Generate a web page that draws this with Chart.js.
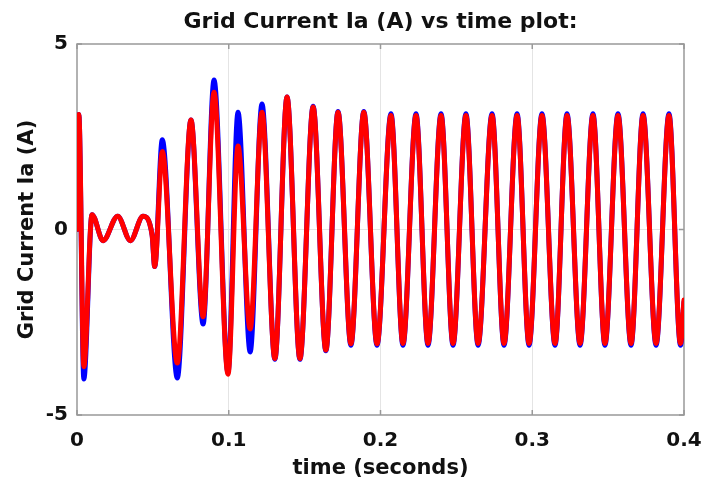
<!DOCTYPE html>
<html>
<head>
<meta charset="utf-8">
<script src="https://cdn.jsdelivr.net/npm/chart.js@4.4.1/dist/chart.umd.min.js"></script>
<style>
html, body { margin: 0; padding: 0; background: #fff; }
#wrap { width: 705px; height: 486px; }
</style>
</head>
<body>
<div id="wrap"><canvas id="myChart" width="705" height="486"></canvas></div>
<script>
// time (s) at each turning point
const timeValues = [
    0, 0.0012, 0.0045, 0.0099, 0.0172, 0.0268, 0.0352, 0.0435, 0.0495, 0.0512,
    0.0562, 0.0661, 0.0751, 0.0831, 0.0903, 0.0995, 0.1061, 0.1141, 0.1219, 0.1304,
    0.1384, 0.1469, 0.1556, 0.1640, 0.1720, 0.1805, 0.1890, 0.1977, 0.2069, 0.2148,
    0.2234, 0.2313, 0.2399, 0.2478, 0.2563, 0.2643, 0.2735, 0.2814, 0.2900, 0.2979,
    0.3064, 0.3150, 0.3229, 0.3315, 0.3400, 0.3479, 0.3565, 0.3651, 0.3730, 0.3816,
    0.3901, 0.3977, 0.4
];
const redValues = [
    0, 3.1, -3.7, 0.4, -0.3, 0.36, -0.3, 0.36, -0.15, -1.0,
    2.1, -3.6, 2.95, -2.35, 3.7, -3.9, 2.25, -2.68, 3.16, -3.48,
    3.57, -3.48, 3.3, -3.25, 3.16, -3.08, 3.16, -3.08, 3.07, -3.07,
    3.07, -3.07, 3.07, -3.07, 3.07, -3.07, 3.07, -3.07, 3.07, -3.07,
    3.07, -3.07, 3.07, -3.07, 3.07, -3.07, 3.07, -3.07, 3.07, -3.07,
    3.07, -3.07, -1.9
];
const blueValues = [
    0, 3.1, -4.03, 0.4, -0.3, 0.36, -0.3, 0.36, -0.15, -1.0,
    2.42, -4.0, 2.95, -2.55, 4.03, -3.85, 3.16, -3.3, 3.38, -3.5,
    3.57, -3.5, 3.32, -3.27, 3.18, -3.12, 3.18, -3.12, 3.12, -3.12,
    3.12, -3.12, 3.12, -3.12, 3.12, -3.12, 3.12, -3.12, 3.12, -3.12,
    3.12, -3.12, 3.12, -3.12, 3.12, -3.12, 3.12, -3.12, 3.12, -3.12,
    3.12, -3.12, -1.95
];
const xTicks = [0, 0.1, 0.2, 0.3, 0.4];
const yTicks = [-5, 0, 5];

const fontFamily = "'DejaVu Sans', sans-serif";
const textColor = '#111';
const gridColor = '#e4e4e4';

// MATLAB style box with inner tick marks
const boxPlugin = {
    id: 'box',
    beforeDatasetsDraw(chart) {
        const {ctx, chartArea: a, scales} = chart;
        ctx.save();
        ctx.strokeStyle = '#999';
        ctx.lineWidth = 1.5;
        ctx.strokeRect(a.left, a.top, a.right - a.left, a.bottom - a.top);
        ctx.beginPath();
        xTicks.forEach(v => {
            const px = scales.x.getPixelForValue(v);
            ctx.moveTo(px, a.top); ctx.lineTo(px, a.top + 5);
            ctx.moveTo(px, a.bottom); ctx.lineTo(px, a.bottom - 5);
        });
        yTicks.forEach(v => {
            const py = scales.y.getPixelForValue(v);
            ctx.moveTo(a.left, py); ctx.lineTo(a.left + 5, py);
            ctx.moveTo(a.right, py); ctx.lineTo(a.right - 5, py);
        });
        ctx.stroke();
        ctx.restore();
    }
};

const toPoints = vals => timeValues.map((t, i) => ({x: t, y: vals[i]}));

new Chart(document.getElementById('myChart'), {
    type: 'line',
    data: {
        datasets: [
            {
                label: 'Ia red',
                data: toPoints(redValues),
                borderColor: '#ff0000',
                borderWidth: 5,
                order: 0,
            },
            {
                label: 'Ia blue',
                data: toPoints(blueValues),
                borderColor: '#0000ff',
                borderWidth: 5,
                order: 1,
            }
        ]
    },
    options: {
        responsive: false,
        animation: false,
        elements: {
            point: { radius: 0 },
            line: { cubicInterpolationMode: 'monotone', borderJoinStyle: 'round', borderCapStyle: 'round' }
        },
        layout: { padding: { left: 0, right: 21, top: 0, bottom: 0 } },
        plugins: {
            legend: { display: false },
            tooltip: { enabled: false },
            title: {
                display: true,
                text: 'Grid Current Ia (A) vs time plot:',
                fullSize: false,
                color: textColor,
                font: { family: fontFamily, size: 22, weight: 'bold' },
                padding: { top: 9, bottom: 8.6 }
            }
        },
        scales: {
            x: {
                type: 'linear',
                min: 0,
                max: 0.4,
                afterBuildTicks: axis => { axis.ticks = xTicks.map(v => ({value: v})); },
                afterFit: s => { s.height = 71; s.paddingLeft = 0; s.paddingRight = 0; },
                ticks: {
                    color: textColor,
                    font: { family: fontFamily, size: 20, weight: 'bold' },
                    padding: 14,
                    maxRotation: 0,
                    autoSkip: false,
                    callback: v => String(v)
                },
                grid: {
                    drawTicks: false,
                    color: c => (c.tick && c.tick.value > 0 && c.tick.value < 0.4) ? gridColor : 'rgba(0,0,0,0)'
                },
                border: { display: false },
                title: {
                    display: true,
                    text: 'time (seconds)',
                    color: textColor,
                    font: { family: fontFamily, size: 21, weight: 'bold' },
                    padding: { top: 0, bottom: 5 }
                }
            },
            y: {
                type: 'linear',
                min: -5,
                max: 5,
                afterBuildTicks: axis => { axis.ticks = yTicks.map(v => ({value: v})); },
                afterFit: s => { s.width = 77; },
                ticks: {
                    color: textColor,
                    font: { family: fontFamily, size: 20, weight: 'bold' },
                    padding: 9,
                    callback: v => String(v)
                },
                grid: {
                    drawTicks: false,
                    color: c => (c.tick && c.tick.value === 0) ? gridColor : 'rgba(0,0,0,0)'
                },
                border: { display: false },
                title: {
                    display: true,
                    text: 'Grid Current Ia (A)',
                    color: textColor,
                    font: { family: fontFamily, size: 21, weight: 'bold' },
                    padding: { top: 15, bottom: 0 }
                }
            }
        }
    },
    plugins: [boxPlugin]
});
</script>
</body>
</html>
